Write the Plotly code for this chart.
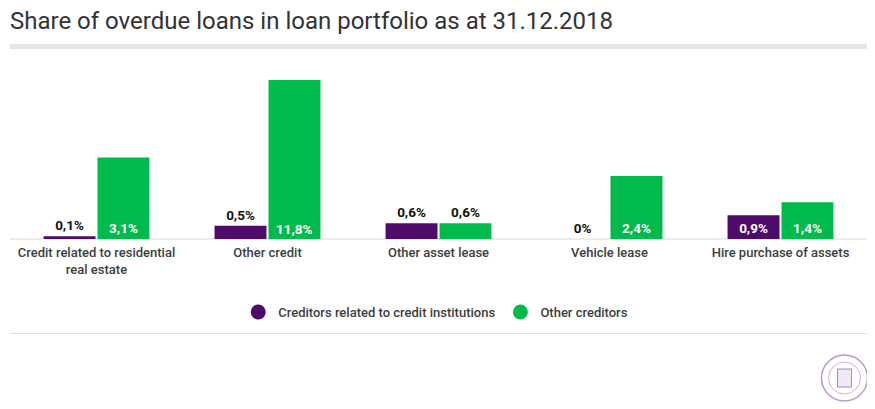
import plotly.graph_objects as go

categories = ["Credit related to residential<br>real estate", "Other credit", "Other asset lease",
              "Vehicle lease", "Hire purchase of assets"]
series_names = ["Creditors related to credit institutions", "Other creditors"]
credit_inst = [0.1, 0.5, 0.6, 0.0, 0.9]
other_creditors = [3.1, 11.8, 0.6, 2.4, 1.4]
y_max = 6.05

PURPLE = "#4e0b6c"
GREEN = "#00ba4b"
FONT = "Roboto"
LABEL_SIZE = 13.5

# page offset (body margin) compensation
OFF = 8
W, H = 875 - OFF, 409 - OFF
PX0, PX1 = 11 - OFF, 866.5 - OFF    # plot area x in figure px
PY0, PY1 = 80 - OFF, 239 - OFF      # plot area y in figure px
PH = PY1 - PY0
PW = PX1 - PX0
BAR_OFFSET_PX = 27


def py(page_y):
    return (PY1 - (page_y - OFF)) / PH


def px(page_x):
    return ((page_x - OFF) - PX0) / PW


def fmt(v):
    s = ("%.1f" % v).replace(".", ",")
    if s.endswith(",0"):
        s = s[:-2]
    return s + "%"


def positions(vals):
    out = []
    for v in vals:
        if v > y_max:
            out.append("none")
        elif v >= 0.85:
            out.append("inside")
        else:
            out.append("outside")
    return out


fig = go.Figure()
annotations = []
for i, (name, vals, col) in enumerate([(series_names[0], credit_inst, PURPLE),
                                       (series_names[1], other_creditors, GREEN)]):
    fig.add_trace(go.Bar(
        x=categories, y=vals, name=name, marker=dict(color=col, line=dict(width=0)),
        text=[fmt(v) for v in vals], textposition=positions(vals), insidetextanchor="start",
        insidetextfont=dict(family=FONT, size=LABEL_SIZE, color="white", weight="bold"),
        outsidetextfont=dict(family=FONT, size=LABEL_SIZE, color="#111111", weight="bold"),
        textangle=0, cliponaxis=False, showlegend=False, hoverinfo="skip",
    ))
    fig.add_trace(go.Scatter(
        x=[None], y=[None], mode="markers", name=name,
        marker=dict(color=col, size=15, symbol="circle"), showlegend=True,
    ))
    for c, v in zip(categories, vals):
        if v > y_max:
            annotations.append(dict(
                x=c, y=0, xref="x", yref="y", text=fmt(v), showarrow=False,
                yanchor="bottom", yshift=0, xshift=(BAR_OFFSET_PX if i == 1 else -BAR_OFFSET_PX),
                font=dict(family=FONT, size=LABEL_SIZE, color="white", weight="bold")))

fig.update_layout(
    width=W, height=H,
    margin=dict(l=PX0, r=W - PX1, t=PY0, b=H - PY1),
    plot_bgcolor="white", paper_bgcolor="white",
    barmode="group", bargap=0.369, bargroupgap=0.037,
    font=dict(family=FONT, color="#3d3d3d"),
    title=dict(text="Share of overdue loans in loan portfolio as at 31.12.2018",
               font=dict(family=FONT, size=24, color="#333333"),
               xref="container", x=(10 - OFF) / W, xanchor="left",
               yref="container", y=1 - (20.5 - OFF) / H, yanchor="middle"),
    xaxis=dict(showgrid=False, showline=False, ticklabelstandoff=4,
               ticks="", tickfont=dict(family=FONT, size=13, color="#3d3d3d", weight=500),
               fixedrange=True),
    yaxis=dict(range=[0, y_max], showgrid=False, zeroline=False, showticklabels=False,
               fixedrange=True),
    legend=dict(orientation="h", x=px(436), xanchor="center", y=py(312), yanchor="middle",
                font=dict(family=FONT, size=13, color="#3d3d3d", weight=500),
                itemwidth=30, itemclick=False),
    annotations=annotations,
    shapes=[
        dict(type="line", xref="paper", yref="paper", x0=px(10), x1=px(870),
             y0=0, y1=0, line=dict(color="#d9d9d9", width=1), layer="below"),
        dict(type="rect", xref="paper", yref="paper", x0=px(10), x1=px(870),
             y0=py(49), y1=py(44), fillcolor="#e6e6e6", line=dict(width=0)),
        dict(type="line", xref="paper", yref="paper", x0=px(10), x1=px(870),
             y0=py(333.5), y1=py(333.5), line=dict(color="#dddddd", width=1)),
        dict(type="circle", xref="paper", yref="paper",
             x0=px(822), x1=px(868), y0=py(401), y1=py(355),
             line=dict(color="#b79ad0", width=1.5), fillcolor="white"),
        dict(type="circle", xref="paper", yref="paper",
             x0=px(829), x1=px(861), y0=py(394), y1=py(362),
             line=dict(color="#c9b3dc", width=1), fillcolor="white"),
        dict(type="rect", xref="paper", yref="paper",
             x0=px(838), x1=px(852), y0=py(387), y1=py(369),
             line=dict(color="#a889c4", width=1), fillcolor="#efe8f5"),
    ],
)

fig.write_html("out.html")
